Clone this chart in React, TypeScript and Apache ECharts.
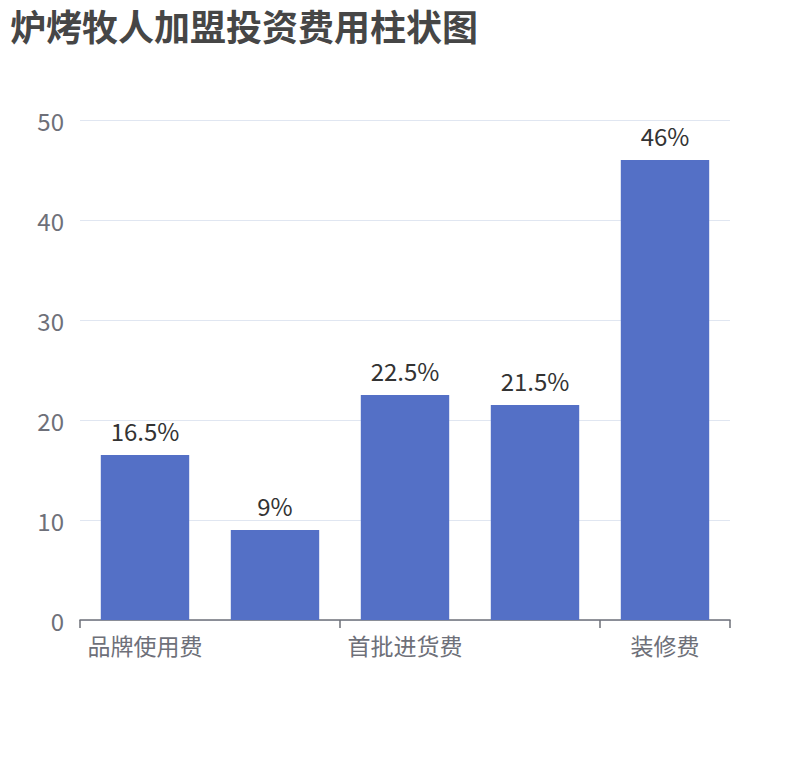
import { useRef, useEffect } from "react";
import * as echarts from "echarts";

const titleText = "炉烤牧人加盟投资费用柱状图";
const categories = ["品牌使用费", "加盟保证金", "首批进货费", "设备购置费", "装修费"];
const shares = [16.5, 9, 22.5, 21.5, 46];

export default function App() {
  const chartRef = useRef<HTMLDivElement>(null);

  useEffect(() => {
    if (!chartRef.current) return;
    document.body.style.margin = "0";
    const chart = echarts.init(chartRef.current, null, { renderer: "svg" });

    const font = '"Noto Sans CJK SC", "Noto Sans", sans-serif';

    chart.setOption({
      animation: false,
      title: {
        text: titleText,
        left: 5,
        top: 2,
        textStyle: {
          color: "#464646",
          fontSize: 36,
          fontWeight: "bold",
          fontFamily: font,
        },
      },
      grid: { left: 80, right: 80, top: 120, bottom: 140 },
      xAxis: {
        type: "category",
        data: categories,
        axisLine: { lineStyle: { color: "#6e7079", width: 1.5 } },
        axisTick: { show: true, interval: 1, length: 8, lineStyle: { color: "#6e7079", width: 1.5 } },
        axisLabel: {
          interval: 1,
          color: "#6e7079",
          fontSize: 23,
          margin: 13,
          fontFamily: font,
        },
      },
      yAxis: {
        type: "value",
        min: 0,
        max: 50,
        interval: 10,
        axisLabel: {
          color: "#6e7079",
          fontSize: 24,
          margin: 16,
          fontFamily: font,
        },
        splitLine: { lineStyle: { color: "#e0e6f1" } },
      },
      series: [
        {
          type: "bar",
          data: shares,
          barWidth: "68%",
          itemStyle: { color: "#5470c6" },
          label: {
            show: true,
            position: "top",
            distance: 13,
            color: "#333",
            fontSize: 24,
            fontFamily: font,
            formatter: (p: { value: number }) => `${p.value}%`,
          },
        },
      ],
    });

    return () => {
      chart.dispose();
    };
  }, []);

  return <div ref={chartRef} style={{ width: "810px", height: "760px" }} />;
}
